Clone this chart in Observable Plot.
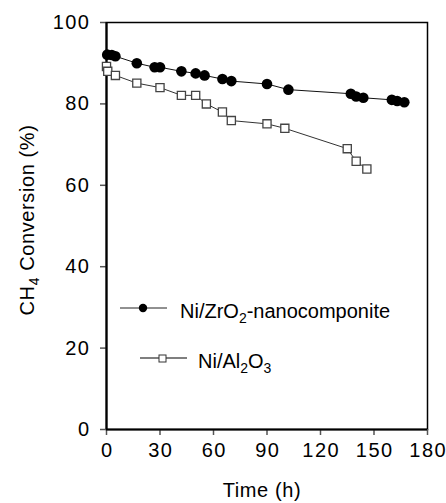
<!DOCTYPE html>
<html>
<head>
<meta charset="utf-8">
<script src="https://cdn.jsdelivr.net/npm/d3@7"></script>
<script src="https://cdn.jsdelivr.net/npm/@observablehq/plot@0.6"></script>
<style>
  html, body { margin: 0; padding: 0; background: white; }
  #chart { position: relative; width: 446px; height: 503px; }
  #chart svg { display: block; }
  #legend { position: absolute; left: 0; top: 0; }
</style>
</head>
<body>
<div id="chart"></div>
<script>
// Ni/ZrO2-nanocomponite series
const zrTime = [0.4, 3, 5, 17, 27, 30, 42, 50, 55, 65, 70, 90, 102, 137, 140, 144, 160, 163, 167];
const zrConv = [92.1, 92.0, 91.7, 90.0, 89.0, 89.0, 88.0, 87.5, 87.0, 86.1, 85.6, 84.9, 83.5, 82.5, 81.8, 81.5, 81.0, 80.7, 80.4];
// Ni/Al2O3 series
const alTime = [0, 0.7, 5, 17, 30, 42, 50, 56, 65, 70, 90, 100, 135, 140, 146];
const alConv = [89.2, 88.0, 87.0, 85.1, 84.0, 82.1, 82.1, 80.0, 78.0, 75.9, 75.1, 74.0, 69.0, 65.9, 64.0];
// ticks
const xTicks = [0, 30, 60, 90, 120, 150, 180];
const yTicks = [0, 20, 40, 60, 80, 100];

const zr = zrTime.map((t, i) => ({t, v: zrConv[i]}));
const al = alTime.map((t, i) => ({t, v: alConv[i]}));

const font = "'Liberation Sans', Arial, Helvetica, sans-serif";

const plot = Plot.plot({
  width: 446,
  height: 503,
  marginLeft: 106,
  marginRight: 19,
  marginTop: 22,
  marginBottom: 74,
  style: {fontFamily: font, fontSize: "20px", background: "white", color: "black"},
  x: {domain: [0, 180], axis: null},
  y: {domain: [0, 100], axis: null},
  marks: [
    Plot.frame({stroke: "black", strokeWidth: 1.5}),
    Plot.axisX({ticks: xTicks, tickSize: 6, tickPadding: 7, stroke: "#555", strokeWidth: 1.5, fontSize: 20, fill: "black", label: null, className: "xax"}),
    Plot.axisY({ticks: yTicks, tickSize: 6, tickPadding: 10, stroke: "#555", strokeWidth: 1.5, fontSize: 20, fill: "black", label: null, className: "yax"}),
    Plot.ruleX([0], {stroke: "black", strokeWidth: 2.2}),
    Plot.ruleY([0], {stroke: "black", strokeWidth: 2.2}),
    Plot.line(al, {x: "t", y: "v", stroke: "#333", strokeWidth: 1}),
    Plot.dot(al, {x: "t", y: "v", symbol: "square", r: 4.6, fill: "white", stroke: "#444", strokeWidth: 1.3}),
    Plot.line(zr, {x: "t", y: "v", stroke: "#111", strokeWidth: 1}),
    Plot.dot(zr, {x: "t", y: "v", r: 5.3, fill: "black", stroke: "none"})
  ]
});

document.getElementById("chart").appendChild(plot);

const svg = d3.select(plot);
// widen tick labels slightly, as in the reference
svg.selectAll("g[aria-label='x-axis tick label'] text, g[aria-label='y-axis tick label'] text")
  .attr("letter-spacing", 1.5);
svg.selectAll("g[aria-label='x-axis tick label'] text").attr("dx", 0.75);

// axis titles with subscripts
const yl = svg.append("text")
  .attr("transform", "translate(34,220) rotate(-90)")
  .attr("text-anchor", "middle")
  .attr("font-family", font)
  .attr("font-size", 20)
  .attr("letter-spacing", 0.6)
  .attr("fill", "black");
yl.append("tspan").text("CH");
yl.append("tspan").attr("font-size", 14).attr("dy", 5).text("4");
yl.append("tspan").attr("dy", -5).text(" Conversion (%)");

svg.append("text")
  .attr("x", 262).attr("y", 497)
  .attr("text-anchor", "middle")
  .attr("font-family", font)
  .attr("font-size", 20)
  .attr("letter-spacing", 0.6)
  .attr("fill", "black")
  .text("Time (h)");

// legend overlay
const leg = d3.select("#chart").append("svg")
  .attr("id", "legend")
  .attr("width", 446).attr("height", 503);

const g1 = leg.append("g");
g1.append("line").attr("x1", 120).attr("x2", 167).attr("y1", 308).attr("y2", 308).attr("stroke", "#222").attr("stroke-width", 1);
g1.append("circle").attr("cx", 143).attr("cy", 308).attr("r", 4.2).attr("fill", "black");
const t1 = g1.append("text").attr("x", 180).attr("y", 318).attr("font-family", font).attr("font-size", 20).attr("fill", "black");
t1.append("tspan").text("Ni/ZrO");
t1.append("tspan").attr("font-size", 14).attr("dy", 5).text("2");
t1.append("tspan").attr("dy", -5).text("-nanocomponite");

const g2 = leg.append("g");
g2.append("line").attr("x1", 140).attr("x2", 187).attr("y1", 358).attr("y2", 358).attr("stroke", "#555").attr("stroke-width", 1.5);
g2.append("rect").attr("x", 159).attr("y", 355).attr("width", 7).attr("height", 7).attr("fill", "white").attr("stroke", "#333").attr("stroke-width", 1);
const t2 = g2.append("text").attr("x", 198).attr("y", 368).attr("font-family", font).attr("font-size", 20).attr("fill", "black");
t2.append("tspan").text("Ni/Al");
t2.append("tspan").attr("font-size", 14).attr("dy", 5).text("2");
t2.append("tspan").attr("dy", -5).text("O");
t2.append("tspan").attr("font-size", 14).attr("dy", 5).text("3");
</script>
</body>
</html>
